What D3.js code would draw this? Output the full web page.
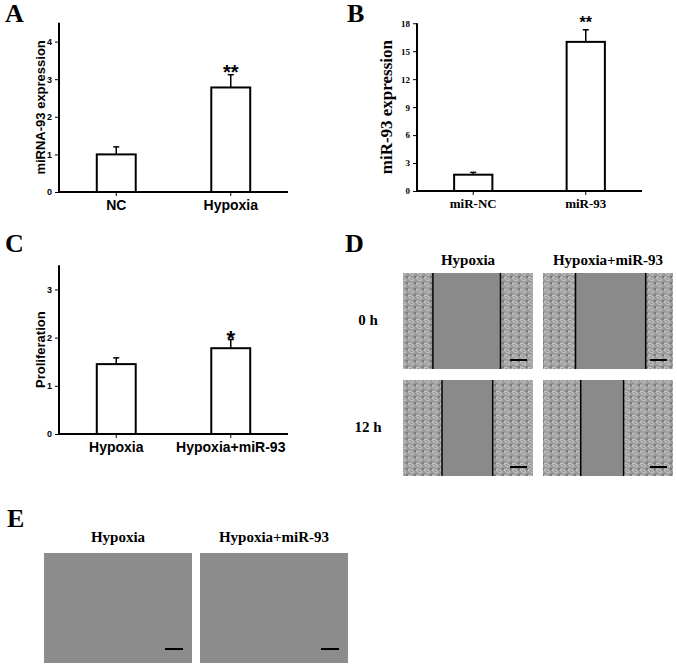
<!DOCTYPE html>
<html><head><meta charset="utf-8">
<script src="https://cdn.jsdelivr.net/npm/d3@7"></script>
<style>body{margin:0;background:#fff}</style>
</head><body>
<script>
// bar data
const catsA = ["NC", "Hypoxia"];
const valsA = [1.0, 2.78];
const errA = [0.2, 0.34];
const catsB = ["miR-NC", "miR-93"];
const valsB = [1.75, 16.0];
const errB = [0.25, 1.3];
const catsC = ["Hypoxia", "Hypoxia+miR-93"];
const valsC = [1.45, 1.78];
const errC = [0.13, 0.18];
// wound edges as fraction of image width [left, right]
const woundD = [[0.23, 0.75], [0.25, 0.79], [0.30, 0.69], [0.29, 0.62]];

const svg = d3.select("body").append("svg").attr("width", 677).attr("height", 669);
const sans = "Liberation Sans, Arial, sans-serif", serif = "Liberation Serif, Times New Roman, serif";

function letter(t, x, y) {
  svg.append("text").attr("x", x).attr("y", y).text(t)
    .attr("font-family", serif).attr("font-weight", "bold").attr("font-size", 26);
}

function barChart(o) {
  const g = svg.append("g");
  const x = d3.scaleBand().domain(o.cats).range([o.x0, o.x1]).paddingInner(0.66).paddingOuter(0.33);
  const y = d3.scaleLinear().domain([0, o.ymax]).range([o.y0, o.y0 - o.unit * o.ymax]);
  g.append("g").attr("transform", `translate(0,${o.y0})`)
    .call(d3.axisBottom(x).tickSize(4).tickPadding(4))
    .call(a => a.select(".domain").attr("d", `M${o.x0},0H${o.x1}`).attr("stroke-width", 2))
    .call(a => a.selectAll("text").attr("font-family", o.font).attr("font-weight", "bold").attr("font-size", o.catSize).attr("fill", "#000"));
  g.append("g").attr("transform", `translate(${o.x0},0)`)
    .call(d3.axisLeft(y).tickValues(o.ticks).tickFormat(d3.format("d")).tickSize(4).tickPadding(3))
    .call(a => a.select(".domain").attr("d", `M0,${y(o.ytop)}V${o.y0}`).attr("stroke-width", 2))
    .call(a => a.selectAll("text").attr("font-family", o.font).attr("font-weight", "bold").attr("font-size", 9).attr("fill", "#000"));
  o.vals.forEach((v, i) => {
    const cx = x(o.cats[i]) + x.bandwidth() / 2;
    g.append("line").attr("x1", cx).attr("x2", cx).attr("y1", y(v)).attr("y2", y(v + o.err[i])).attr("stroke", "#000").attr("stroke-width", 1.5);
    g.append("line").attr("x1", cx - 3).attr("x2", cx + 3).attr("y1", y(v + o.err[i])).attr("y2", y(v + o.err[i])).attr("stroke", "#000").attr("stroke-width", 1.5);
    g.append("rect").attr("x", x(o.cats[i])).attr("width", x.bandwidth())
      .attr("y", y(v)).attr("height", o.y0 - y(v)).attr("fill", "#fff").attr("stroke", "#000").attr("stroke-width", 2);
  });
  const sx = x(o.cats[1]) + x.bandwidth() / 2;
  g.append("text").attr("x", sx).attr("y", y(o.vals[1] + o.err[1]) - 6 + o.starDy).attr("text-anchor", "middle")
    .attr("font-family", sans).attr("font-weight", "bold").attr("font-size", o.starSize).text(o.star);
  g.append("text").attr("transform", `translate(${o.labX},${(o.y0 + y(o.ytop)) / 2}) rotate(-90)`)
    .attr("text-anchor", "middle").attr("font-family", o.font).attr("font-weight", "bold")
    .attr("font-size", o.labSize).text(o.label);
}

letter("A", 5, 22);
barChart({cats: catsA, vals: valsA, err: errA, x0: 59, x1: 288, y0: 192, unit: 37.6, ymax: 4.5, ytop: 4.5,
  ticks: [0, 1, 2, 3, 4], label: "miRNA-93 expression", labX: 45, labSize: 13, catSize: 14, font: sans,
  star: "**", starSize: 20, starDy: 10});
letter("B", 347, 22);
barChart({cats: catsB, vals: valsB, err: errB, x0: 417, x1: 642, y0: 191, unit: 9.32, ymax: 18, ytop: 18,
  ticks: [0, 3, 6, 9, 12, 15, 18], label: "miR-93 expression", labX: 392, labSize: 17, catSize: 13, font: serif,
  star: "**", starSize: 16, starDy: 4});
letter("C", 5, 252);
barChart({cats: catsC, vals: valsC, err: errC, x0: 59, x1: 288, y0: 434, unit: 48.2, ymax: 3.5, ytop: 3.5,
  ticks: [0, 1, 2, 3], label: "Proliferation", labX: 45, labSize: 13, catSize: 14, font: sans,
  star: "*", starSize: 22, starDy: 12});

// textured cell pattern
const defs = svg.append("defs");
const pat = defs.append("pattern").attr("id", "cells").attr("width", 8).attr("height", 6).attr("patternUnits", "userSpaceOnUse");
pat.append("rect").attr("width", 8).attr("height", 6).attr("fill", "#9a9a9a");
pat.append("ellipse").attr("cx", 3).attr("cy", 3).attr("rx", 3).attr("ry", 1.3).attr("fill", "none").attr("stroke", "#d8d8d8").attr("stroke-width", 0.7).attr("transform", "rotate(30 3 3)");
pat.append("circle").attr("cx", 7).attr("cy", 1).attr("r", 0.8).attr("fill", "#555");

// panel D
letter("D", 345, 252);
const dx = [403, 543], dy = [273, 380], dw = 130, dh = 96;
["Hypoxia", "Hypoxia+miR-93"].forEach((t, i) => svg.append("text").attr("x", dx[i] + dw / 2).attr("y", 265)
  .attr("text-anchor", "middle").attr("font-family", serif).attr("font-weight", "bold").attr("font-size", 15).text(t));
["0 h", "12 h"].forEach((t, j) => svg.append("text").attr("x", 368).attr("y", dy[j] + 52)
  .attr("text-anchor", "middle").attr("font-family", serif).attr("font-weight", "bold").attr("font-size", 15).text(t));
woundD.forEach((w, k) => {
  const j = Math.floor(k / 2), i = k % 2, x0 = dx[i], y0 = dy[j];
  const ws = d3.scaleLinear().domain([0, 1]).range([x0, x0 + dw]);
  svg.append("rect").attr("x", x0).attr("y", y0).attr("width", dw).attr("height", dh).attr("fill", "url(#cells)");
  svg.append("rect").attr("x", ws(w[0])).attr("y", y0).attr("width", ws(w[1]) - ws(w[0])).attr("height", dh).attr("fill", "#8a8a8a");
  w.forEach(f => svg.append("line").attr("x1", ws(f)).attr("x2", ws(f)).attr("y1", y0).attr("y2", y0 + dh).attr("stroke", "#000").attr("stroke-width", 1.5));
  svg.append("line").attr("x1", x0 + dw - 23).attr("x2", x0 + dw - 6).attr("y1", y0 + dh - 9).attr("y2", y0 + dh - 9).attr("stroke", "#000").attr("stroke-width", 2);
});

// panel E
letter("E", 7, 527);
const ex = [44, 200], ew = 148, ey = 553, eh = 110;
["Hypoxia", "Hypoxia+miR-93"].forEach((t, i) => {
  svg.append("text").attr("x", ex[i] + ew / 2).attr("y", 542).attr("text-anchor", "middle")
    .attr("font-family", serif).attr("font-weight", "bold").attr("font-size", 15).text(t);
  svg.append("rect").attr("x", ex[i]).attr("y", ey).attr("width", ew).attr("height", eh).attr("fill", "#8c8c8c");
  svg.append("line").attr("x1", ex[i] + ew - 27).attr("x2", ex[i] + ew - 9).attr("y1", ey + eh - 14).attr("y2", ey + eh - 14).attr("stroke", "#000").attr("stroke-width", 2);
});
</script>
</body></html>
